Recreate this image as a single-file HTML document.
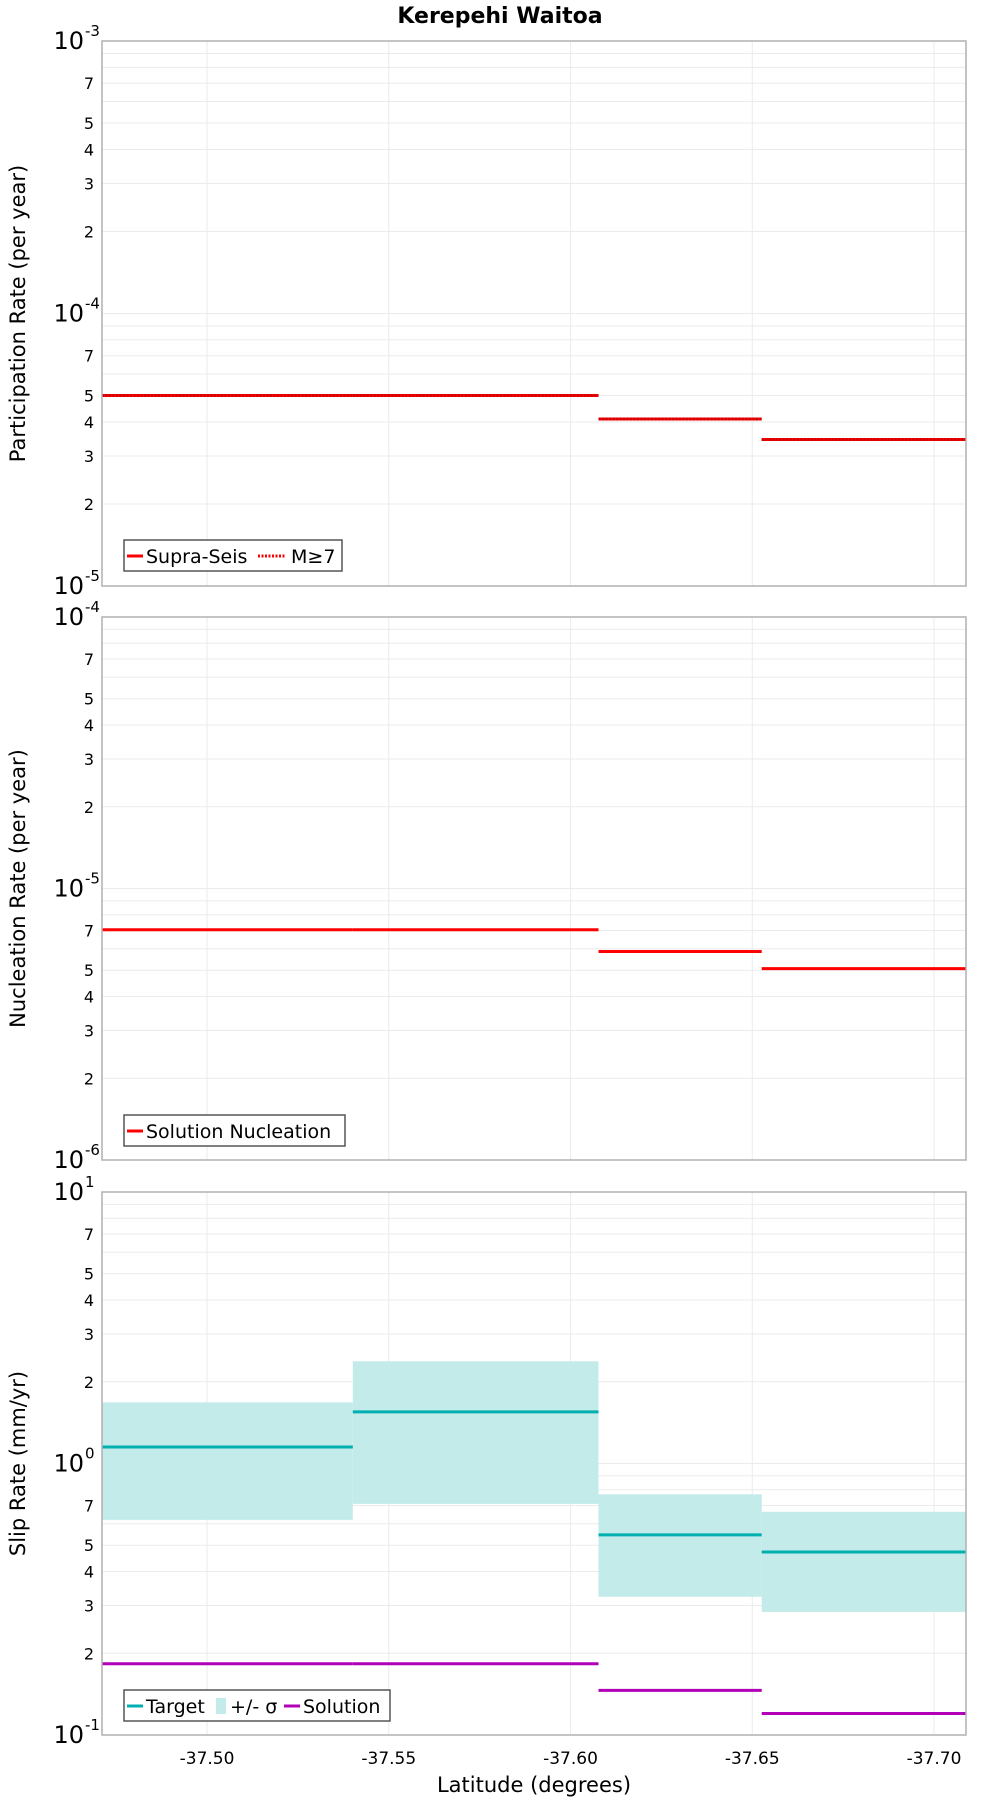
<!DOCTYPE html>
<html><head><meta charset="utf-8"><style>
html,body{margin:0;padding:0;background:#fff}
svg{display:block;font-family:"DejaVu Sans","Liberation Sans",sans-serif}
</style></head><body>
<svg id="c" width="1000" height="1800" viewBox="0 0 1000 1800" xmlns="http://www.w3.org/2000/svg">
<text x="500" y="23" text-anchor="middle" font-size="22" font-weight="bold">Kerepehi Waitoa</text>
</svg>
<script>
// x categories: segment boundaries (latitude)
const segStarts = [-37.4711, -37.5401, -37.6077, -37.6526];
const segEnds   = [-37.5401, -37.6077, -37.6526, -37.7088];
const xTicks = [-37.50, -37.55, -37.60, -37.65, -37.70];
const xTickLabels = ["-37.50", "-37.55", "-37.60", "-37.65", "-37.70"];
// panel 1
const supraSeis = [5.0e-5, 5.0e-5, 4.1e-5, 3.45e-5];
const m7 = [5.0e-5, 5.0e-5, 4.1e-5, 3.45e-5];
// panel 2
const nucleation = [7.05e-6, 7.05e-6, 5.86e-6, 5.07e-6];
// panel 3
const target = [1.15, 1.55, 0.546, 0.472];
const sigmaHi = [1.68, 2.38, 0.77, 0.664];
const sigmaLo = [0.62, 0.71, 0.323, 0.284];
const solution = [0.183, 0.183, 0.146, 0.120];

const NS = "http://www.w3.org/2000/svg";
const svg = document.getElementById('c');
const L = 102, R = 966, X0 = -37.4711, X1 = -37.7088;
const xs = v => L + (v - X0) / (X1 - X0) * (R - L);
function el(tag, attrs, parent) {
  const e = document.createElementNS(NS, tag);
  for (const k in attrs) e.setAttribute(k, attrs[k]);
  (parent || svg).appendChild(e);
  return e;
}
function panel(top, bot, dmin, dmax, ylabel, name) {
  const g = el('g', {});
  
  
  const lmin = Math.log10(dmin), lmax = Math.log10(dmax);
  const ys = v => bot - (Math.log10(v) - lmin) / (lmax - lmin) * (bot - top);
  for (let d = lmin; d < lmax; d++) {
    for (let m = 1; m <= 9; m++) {
      const v = m * Math.pow(10, d);
      const y = ys(v);
      if (m > 1) el('line', {x1: L, x2: R, y1: y, y2: y, stroke: '#ebebeb', 'stroke-width': 1}, g);
      if (m === 1) el('line', {x1: L, x2: R, y1: y, y2: y, stroke: '#ebebeb', 'stroke-width': 1}, g);
      if ([2, 3, 4, 5, 7].includes(m)) {
        const t = el('text', {x: L - 8, y: y + 6, 'text-anchor': 'end', 'font-size': 16}, g);
        t.textContent = m;
        
        
      }
    }
  }
  for (let d = lmin; d <= lmax; d++) {
    const y = ys(Math.pow(10, d));
    const t = el('text', {x: L - 18, y: y + 8, 'text-anchor': 'end', 'font-size': 24}, g);
    t.textContent = '10';
    
    
    const s = el('text', {x: L - 17, y: y - 5, 'text-anchor': 'start', 'font-size': 15}, g);
    s.textContent = String(d);
    
    
  }
  xTicks.forEach(v => el('line', {x1: xs(v), x2: xs(v), y1: top, y2: bot, stroke: '#ebebeb', 'stroke-width': 1}, g));
  const yl = el('text', {x: 0, y: 0, 'text-anchor': 'middle', 'font-size': 21, transform: `translate(25,${(top + bot) / 2}) rotate(-90)`}, g);
  yl.textContent = ylabel;
  
  
  return {g, ys, top, bot};
}
function frame(p) {
  const r = el('rect', {x: L, y: p.top, width: R - L, height: p.bot - p.top, fill: 'none', stroke: '#b0b0b0', 'stroke-width': 1.5}, p.g);
  
  
}
function steps(p, vals, color, name, dash) {
  vals.forEach((v, i) => {
    const a = {x1: xs(segStarts[i]), x2: xs(segEnds[i]), y1: p.ys(v), y2: p.ys(v), stroke: color, 'stroke-width': 3};
    if (dash) a['stroke-dasharray'] = dash;
    const l = el('line', a, p.g);
    
    
  });
}
function legend(p, x, y, w, items) {
  const g = el('g', {}, p.g);
  
  
  el('rect', {x: x, y: y, width: w, height: 31, fill: '#fff', stroke: '#555', 'stroke-width': 1.5}, g);
  items.forEach(it => {
    const gy = y + 16;
    if (it.type === 'box') el('rect', {x: it.x, y: gy - 8, width: 10, height: 16, fill: it.color}, g);
    else {
      const a = {x1: it.x, x2: it.x + (it.len || 16), y1: gy, y2: gy, stroke: it.color, 'stroke-width': 3};
      if (it.dash) a['stroke-dasharray'] = it.dash;
      el('line', a, g);
    }
    const t = el('text', {x: it.tx, y: gy + 7, 'font-size': 19}, g);
    t.textContent = it.label;
    
    
  });
}
// Panel 1
const p1 = panel(41, 586, 1e-5, 1e-3, 'Participation Rate (per year)', 'participation-panel');
steps(p1, supraSeis, '#ff0000', 'supra-seis');
steps(p1, m7, '#cc0000', 'm7', '2,1.5');
frame(p1);
legend(p1, 124, 540, 218, [
  {x: 127, tx: 146, color: '#ff0000', label: 'Supra-Seis'},
  {x: 258, tx: 291, color: '#ff0000', dash: '2,1.5', len: 28, label: 'M≥7'}]);
// Panel 2
const p2 = panel(617, 1160, 1e-6, 1e-4, 'Nucleation Rate (per year)', 'nucleation-panel');
steps(p2, nucleation, '#ff0000', 'nucleation');
frame(p2);
legend(p2, 124, 1115, 221, [
  {x: 127, tx: 146, color: '#ff0000', label: 'Solution Nucleation'}]);
// Panel 3
const p3 = panel(1192, 1735, 0.1, 10, 'Slip Rate (mm/yr)', 'slip-rate-panel');
sigmaHi.forEach((v, i) => {
  const y1 = p3.ys(v), y2 = p3.ys(sigmaLo[i]);
  const r = el('rect', {x: xs(segStarts[i]), y: y1, width: xs(segEnds[i]) - xs(segStarts[i]), height: y2 - y1, fill: '#c2ebea'}, p3.g);
  
  
});
steps(p3, target, '#00b0b0', 'target');
steps(p3, solution, '#b000b8', 'solution');
frame(p3);
legend(p3, 124, 1690, 266, [
  {x: 127, tx: 146, color: '#00b0b0', label: 'Target'},
  {type: 'box', x: 216, tx: 230, color: '#c2ebea', label: '+/- σ'},
  {x: 284, tx: 303, color: '#b000b8', label: 'Solution'}]);
// x ticks
xTicks.forEach((v, i) => {
  const t = el('text', {x: xs(v), y: 1764, 'text-anchor': 'middle', 'font-size': 17});
  t.textContent = xTickLabels[i];
  
  
});
const xt = el('text', {x: (L + R) / 2, y: 1792, 'text-anchor': 'middle', 'font-size': 21});
xt.textContent = 'Latitude (degrees)';


</script>
</body></html>
